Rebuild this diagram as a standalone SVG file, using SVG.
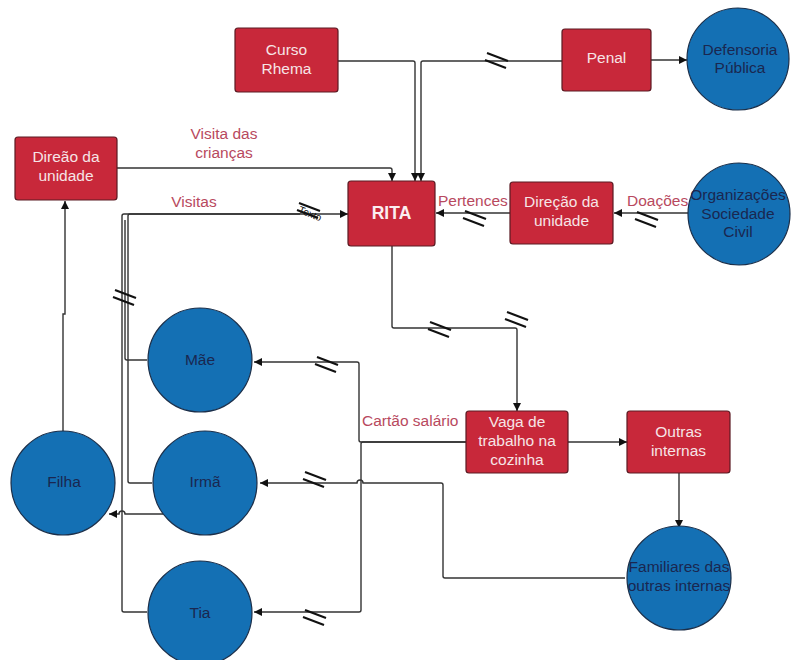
<svg xmlns="http://www.w3.org/2000/svg" xmlns:xlink="http://www.w3.org/1999/xlink" width="791" height="660" viewBox="0 0 791 660">
  <style>
    .box { fill: #c8283a; stroke: #5a1a22; stroke-width: 1.2; }
    .circ { fill: #1470b4; stroke: #1b2f4a; stroke-width: 1.2; }
    .bt { font-family: "Liberation Sans", Arial, sans-serif; font-size: 15.5px; fill: #f6e4e6; text-anchor: middle; }
    .ct { font-family: "Liberation Sans", Arial, sans-serif; font-size: 15.5px; fill: #1a2750; text-anchor: middle; }
    .lbl { font-family: "Liberation Sans", Arial, sans-serif; font-size: 15.5px; fill: #b8495e; }
    .ln { fill: none; stroke: #333; stroke-width: 1.4; }
    .sl { stroke: #111; stroke-width: 2.2; }
  </style>
  <defs>
    <marker id="arr" viewBox="0 0 10 10" refX="10" refY="5" markerWidth="8" markerHeight="8" markerUnits="userSpaceOnUse" orient="auto">
      <path d="M0,0 L10,5 L0,10 z" fill="#111"/>
    </marker>
    <g id="slash">
      <line class="sl" x1="-10" y1="-7" x2="11" y2="1"/>
      <line class="sl" x1="-12" y1="0" x2="9" y2="8"/>
    </g>
  </defs>

  <rect width="791" height="660" fill="#ffffff"/>

  <!-- connectors -->
  <g id="connectors">
    <path class="ln" d="M338,61 H413 Q415,61 415,63 V181" marker-end="url(#arr)"/>
    <path class="ln" d="M562,61 H423 Q421,61 421,63 V181" marker-end="url(#arr)"/>
    <path class="ln" d="M651,60 H687" marker-end="url(#arr)"/>
    <path class="ln" d="M117,168 H390 Q392,168 392,170 V181" marker-end="url(#arr)"/>
    <!-- family visits into RITA -->
    <path class="ln" d="M147,612 H124 Q122,612 122,610 V216 Q122,214 124,214 H300"/>
    <path class="ln" d="M147,360 H127 Q125,360 125,358 V220"/>
    <path class="ln" d="M152,483 H130 Q128,483 128,481 V216 Q128,214 130,214 H348" marker-end="url(#arr)"/>
    <!-- Irmã to Filha -->
    <path class="ln" d="M163,514 H125 A3,3 0 0 0 119,514 H109" marker-end="url(#arr)"/>
    <!-- Filha to direção -->
    <path class="ln" d="M63,433 V314 H65 V201" marker-end="url(#arr)"/>
    <!-- RITA to vaga -->
    <path class="ln" d="M392,246 V326 Q392,328 394,328 H515 Q517,328 517,330 V411" marker-end="url(#arr)"/>
    <path class="ln" d="M568,442 H627" marker-end="url(#arr)"/>
    <path class="ln" d="M679,473 V528" marker-end="url(#arr)"/>
    <!-- cartão salário -->
    <path class="ln" d="M466,442 H361 Q359,442 359,440 V364 Q359,362 357,362 H254" marker-end="url(#arr)"/>
    <path class="ln" d="M466,442 H363 Q361,442 361,444 V610 Q361,612 359,612 H254" marker-end="url(#arr)"/>
    <!-- familiares to Irmã -->
    <path class="ln" d="M625,578 H445 Q443,578 443,576 V485 Q443,483 441,483 H363 A3,3 0 0 0 357,483 H260" marker-end="url(#arr)"/>
    <path class="ln" d="M688,213 H614" marker-end="url(#arr)"/>
    <path class="ln" d="M510,213 H436" marker-end="url(#arr)"/>

    <!-- break marks -->
    <use xlink:href="#slash" transform="translate(497,60)"/>
    <use xlink:href="#slash" transform="translate(475,218)"/>
    <use xlink:href="#slash" transform="translate(647,219)"/>
    <use xlink:href="#slash" transform="translate(309,210)"/>
    <use xlink:href="#slash" transform="translate(125,297)"/>
    <use xlink:href="#slash" transform="translate(440,329)"/>
    <use xlink:href="#slash" transform="translate(517,319)"/>
    <use xlink:href="#slash" transform="translate(327,364)"/>
    <use xlink:href="#slash" transform="translate(315,479)"/>
    <use xlink:href="#slash" transform="translate(315,617)"/>
    <text x="310" y="217" transform="rotate(22 310 214)" font-family="Liberation Sans, Arial, sans-serif" font-size="10" fill="#111" text-anchor="middle">Texto</text>

    <!-- labels -->
    <text class="lbl" x="224" y="139" text-anchor="middle">Visita das</text>
    <text class="lbl" x="224" y="158" text-anchor="middle">crianças</text>
    <text class="lbl" x="194" y="207" text-anchor="middle">Visitas</text>
    <text class="lbl" x="438" y="206">Pertences</text>
    <text class="lbl" x="627" y="206">Doações</text>
    <text class="lbl" x="362" y="426">Cartão salário</text>
  </g>

  <!-- nodes -->
  <g id="curso-rhema">
    <rect class="box" x="235" y="28" width="103" height="64" rx="3"/>
    <text class="bt" x="286.5" y="55">Curso</text>
    <text class="bt" x="286.5" y="74">Rhema</text>
  </g>
  <g id="penal">
    <rect class="box" x="562" y="29" width="89" height="62" rx="3"/>
    <text class="bt" x="606.5" y="63">Penal</text>
  </g>
  <g id="defensoria">
    <circle class="circ" cx="738" cy="59" r="51"/>
    <text class="ct" x="740" y="55">Defensoria</text>
    <text class="ct" x="740" y="73">Pública</text>
  </g>
  <g id="rita">
    <rect class="box" x="348" y="181" width="87" height="65" rx="3"/>
    <text x="391.5" y="219" font-family="Liberation Sans, Arial, sans-serif" font-size="17.5" font-weight="bold" fill="#fbeef0" text-anchor="middle">RITA</text>
  </g>
  <g id="direcao-direita">
    <rect class="box" x="510" y="182" width="103" height="62" rx="3"/>
    <text class="bt" x="561.5" y="207">Direção da</text>
    <text class="bt" x="561.5" y="226">unidade</text>
  </g>
  <g id="organizacoes">
    <circle class="circ" cx="739" cy="214" r="51"/>
    <text class="ct" x="738" y="200">Organizações</text>
    <text class="ct" x="738" y="219">Sociedade</text>
    <text class="ct" x="738" y="237">Civil</text>
  </g>
  <g id="direcao-esquerda">
    <rect class="box" x="15" y="137" width="102" height="63" rx="3"/>
    <text class="bt" x="66" y="162">Direão da</text>
    <text class="bt" x="66" y="181">unidade</text>
  </g>
  <g id="mae">
    <circle class="circ" cx="200" cy="360" r="52"/>
    <text class="ct" x="200" y="365">Mãe</text>
  </g>
  <g id="irma">
    <circle class="circ" cx="205" cy="483" r="52"/>
    <text class="ct" x="205" y="487">Irmã</text>
  </g>
  <g id="filha">
    <circle class="circ" cx="63" cy="483" r="52"/>
    <text class="ct" x="64" y="487">Filha</text>
  </g>
  <g id="tia">
    <circle class="circ" cx="200" cy="613" r="52"/>
    <text class="ct" x="200" y="618">Tia</text>
  </g>
  <g id="vaga">
    <rect class="box" x="466" y="411" width="102" height="62" rx="3"/>
    <text class="bt" x="517" y="427">Vaga de</text>
    <text class="bt" x="517" y="446">trabalho na</text>
    <text class="bt" x="517" y="465">cozinha</text>
  </g>
  <g id="outras-internas">
    <rect class="box" x="627" y="411" width="103" height="62" rx="3"/>
    <text class="bt" x="678.5" y="437">Outras</text>
    <text class="bt" x="678.5" y="456">internas</text>
  </g>
  <g id="familiares">
    <circle class="circ" cx="679" cy="578" r="52"/>
    <text class="ct" x="679" y="572">Familiares das</text>
    <text class="ct" x="679" y="591">outras internas</text>
  </g>
</svg>
